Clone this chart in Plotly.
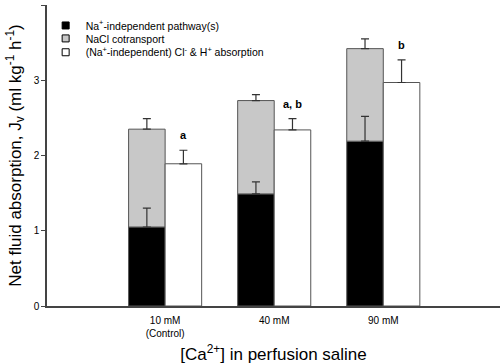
import plotly.graph_objects as go

categories = ["10 mM<br>(Control)", "40 mM", "90 mM"]
na_indep = [1.05, 1.49, 2.19]
na_indep_err = [0.25, 0.16, 0.33]
nacl_total = [2.35, 2.73, 3.42]
nacl_total_err = [0.14, 0.08, 0.13]
cl_h = [1.89, 2.34, 2.97]
cl_h_err = [0.18, 0.15, 0.30]
sig_labels = ["a", "a, b", "b"]
series_names = ["Na<sup>+</sup>-independent pathway(s)", "NaCl cotransport",
                "(Na<sup>+</sup>-independent) Cl<sup>-</sup> & H<sup>+</sup> absorption"]
series_colors = ["black", "#c8c8c8", "white"]

nacl = [t - b for t, b in zip(nacl_total, na_indep)]
pos = [1, 2, 3]
w = 0.335
xs = [p - w / 2 for p in pos]
xw = [p + w / 2 for p in pos]

line = dict(color="#555555", width=1)
fig = go.Figure()
fig.add_bar(x=xs, y=na_indep, width=w, marker=dict(color=series_colors[0], line=line),
            name=series_names[0], showlegend=False)
fig.add_bar(x=xs, y=nacl, base=na_indep, width=w, marker=dict(color=series_colors[1], line=line),
            name=series_names[1], showlegend=False)
fig.add_bar(x=xw, y=cl_h, width=w, marker=dict(color=series_colors[2], line=line),
            name=series_names[2], showlegend=False)

eb = dict(type="data", symmetric=False, arrayminus=[0, 0, 0], color="#333333", thickness=1.2, width=4)
for x, y, e in [(xs, na_indep, na_indep_err), (xs, nacl_total, nacl_total_err), (xw, cl_h, cl_h_err)]:
    fig.add_scatter(x=x, y=y, mode="markers", marker=dict(size=1, color="rgba(0,0,0,0)"),
                    error_y=dict(eb, array=e), showlegend=False, hoverinfo="skip")

# legend entries (one legend per row for tight spacing)
legend_ids = ["legend", "legend2", "legend3"]
for name, col, lid in zip(series_names, series_colors, legend_ids):
    fig.add_scatter(x=[None], y=[None], mode="markers", name=name, legend=lid,
                    marker=dict(symbol="square", size=7, color=col, line=dict(color="black", width=1)))

for x, y, e, s in zip(xw, cl_h, cl_h_err, sig_labels):
    fig.add_annotation(x=x, y=y + e, text="<b>%s</b>" % s, showarrow=False, yshift=15,
                       font=dict(size=11, color="black"))

leg = dict(x=-0.003, xanchor="left", yanchor="middle", bgcolor="rgba(0,0,0,0)",
           font=dict(size=10.5), itemwidth=30)
fig.update_layout(
    width=500, height=364, barmode="overlay", plot_bgcolor="white", paper_bgcolor="white",
    margin=dict(l=47, r=0, t=5, b=58),
    font=dict(family="Liberation Sans, Arial", color="black"),
    showlegend=True,
    legend=dict(leg, y=0.932),
    legend2=dict(leg, y=0.889),
    legend3=dict(leg, y=0.843),
)
fig.update_xaxes(range=[-0.083, 4.07], tickvals=pos, ticktext=categories, showline=True,
                 linecolor="#444444", linewidth=1.5, ticks="", showgrid=False, zeroline=False,
                 tickfont=dict(size=10), automargin=False, ticklabelstandoff=4,
                 title=dict(text="[Ca<sup>2+</sup>] in perfusion saline", font=dict(size=17), standoff=12))
fig.update_yaxes(range=[0, 4], tickvals=[0, 1, 2, 3, 4], showline=True, linecolor="#444444",
                 linewidth=1.5, ticks="outside", ticklen=4, tickcolor="#444444", showgrid=False,
                 zeroline=False, tickfont=dict(size=10), automargin=False,
                 title=dict(text="Net fluid absorption, J<sub>v</sub> (ml kg<sup>-1</sup> h<sup>-1</sup>)",
                            font=dict(size=17), standoff=8))
fig.write_html("out.html", config={"displayModeBar": False},
               post_script="document.body.style.margin='0';")
